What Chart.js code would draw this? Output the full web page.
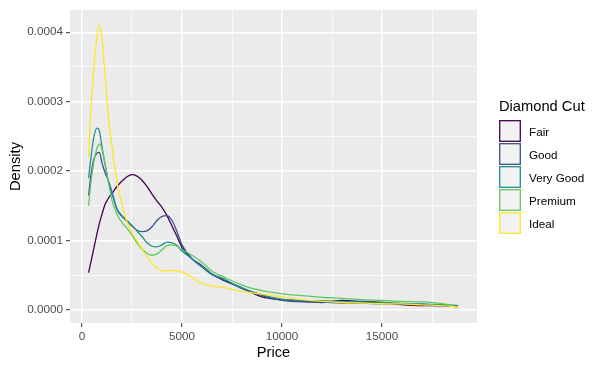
<!DOCTYPE html>
<html>
<head>
<meta charset="utf-8">
<script src="https://cdn.jsdelivr.net/npm/chart.js@4"></script>
<style>
  html, body { margin: 0; padding: 0; background: #ffffff; }
  #wrap { width: 600px; height: 369px; position: relative; }
</style>
</head>
<body>
<div id="wrap"><canvas id="myChart" width="600" height="369"></canvas></div>
<script>
// price grid (x) shared by every cut, densities
const prices = [330, 450, 600, 750, 870, 1000, 1150, 1300, 1500, 1750, 2000, 2250, 2500, 2750, 3000,
  3250, 3500, 3750, 4000, 4250, 4500, 4750, 5000, 5500, 6000, 6500, 7000, 8000, 9000, 10000,
  11000, 12000, 13000, 14000, 15000, 16000, 17000, 18000, 18800];

const fair = [0.000054, 0.00007, 0.00009, 0.00011, 0.000125, 0.000138, 0.000152, 0.00016, 0.000168, 0.000178, 0.000186,
  0.000192, 0.000195, 0.000193, 0.000187, 0.000178, 0.000167, 0.000157, 0.000148, 0.000136, 0.000121, 0.000106,
  0.00009, 0.000074, 0.000064, 0.000052, 0.000044, 0.000032, 0.000019, 0.000015, 0.000013, 0.000011, 0.000014,
  0.0000125, 0.000011, 0.000008, 0.0000065, 0.0000063, 0.000005];

const good = [0.000165, 0.000195, 0.000218, 0.000226, 0.000227, 0.000212, 0.000198, 0.000188, 0.00017, 0.000145, 0.000135,
  0.000128, 0.000121, 0.000115, 0.000113, 0.000114, 0.00012, 0.000129, 0.000135, 0.000136, 0.000129, 0.000113,
  0.000094, 0.000074, 0.000062, 0.000051, 0.000045, 0.000031, 0.000021, 0.000014, 0.0000118, 0.0000115, 0.0000102,
  0.00001, 0.0000092, 0.000009, 0.0000082, 0.0000075, 0.000006];

const veryGood = [0.00019, 0.00022, 0.00025, 0.000262, 0.000258, 0.000235, 0.00021, 0.000188, 0.000168, 0.000146, 0.000136,
  0.000129, 0.000122, 0.000114, 0.000106, 0.000097, 0.000092, 0.000091, 0.000094, 0.000098, 0.000097, 0.000093,
  0.000085, 0.000074, 0.000063, 0.000052, 0.000046, 0.000032, 0.000022, 0.000016, 0.000014, 0.0000135, 0.0000125,
  0.000012, 0.000011, 0.0000098, 0.000009, 0.000008, 0.0000065];

const premium = [0.00015, 0.000185, 0.000215, 0.000233, 0.000239, 0.000232, 0.000212, 0.000188, 0.000158, 0.000138, 0.000126,
  0.000118, 0.000108, 0.000097, 0.000088, 0.000082, 0.000079, 0.000081, 0.000087, 0.000093, 0.000094, 0.000092,
  0.000087, 0.000079, 0.000069, 0.000056, 0.000049, 0.000036, 0.000028, 0.0000235, 0.000021, 0.0000185, 0.000017,
  0.000015, 0.000014, 0.0000125, 0.000012, 0.0000095, 0.0000045];

const ideal = [0.00022, 0.00029, 0.00035, 0.000395, 0.000411, 0.00039, 0.00034, 0.000285, 0.000235, 0.000185, 0.000152,
  0.000127, 0.000111, 0.0001, 0.000088, 0.000077, 0.000068, 0.00006, 0.000057, 0.0000565, 0.000057, 0.000057,
  0.000055, 0.000047, 0.000038, 0.000035, 0.000033, 0.000027, 0.000023, 0.000019, 0.000015, 0.0000125, 0.000011,
  0.0000102, 0.0000092, 0.000009, 0.0000075, 0.0000065, 0.0000045];

const cuts = ['Fair', 'Good', 'Very Good', 'Premium', 'Ideal'];
const cutColors = ['#440154', '#3B528B', '#21908C', '#5DC863', '#FDE725'];
const series = [fair, good, veryGood, premium, ideal];

const xMajor = [0, 5000, 10000, 15000];
const xMinor = [2500, 7500, 12500, 17500];
const xTickLabels = ['0', '5000', '10000', '15000'];
const yMajor = [0, 0.0001, 0.0002, 0.0003, 0.0004];
const yMinor = [0.00005, 0.00015, 0.00025, 0.00035];
const yTickLabels = ['0.0000', '0.0001', '0.0002', '0.0003', '0.0004'];

const FONT = '"Liberation Sans", Arial, sans-serif';

// grey panel behind the grid
const panelBg = {
  id: 'panelBg',
  beforeDraw(chart) {
    const { ctx, chartArea: a } = chart;
    ctx.save();
    ctx.fillStyle = '#EBEBEB';
    ctx.fillRect(a.left, a.top, a.right - a.left, a.bottom - a.top);
    ctx.restore();
  }
};

// ggplot style legend with outlined keys
const cutLegend = {
  id: 'cutLegend',
  afterDraw(chart) {
    const ctx = chart.ctx;
    ctx.save();
    ctx.fillStyle = '#000000';
    ctx.font = '14.7px ' + FONT;
    ctx.textBaseline = 'alphabetic';
    ctx.fillText('Diamond Cut', 499, 111);
    ctx.font = '11.7px ' + FONT;
    cuts.forEach((c, i) => {
      const top = 120 + i * 23;
      ctx.fillStyle = '#F2F2F2';
      ctx.fillRect(499, top, 22, 22);
      ctx.strokeStyle = cutColors[i];
      ctx.lineWidth = 1.3;
      ctx.strokeRect(499.7, top + 0.7, 20.6, 20.6);
      ctx.fillStyle = '#000000';
      ctx.fillText(c, 529, top + 15.5);
    });
    ctx.restore();
  }
};

function setTicks(majors, minors) {
  return (scale) => {
    scale.ticks = majors.concat(minors).sort((a, b) => a - b).map(v => ({ value: v }));
  };
}

const isMajor = (list, v) => list.some(m => Math.abs(m - v) < 1e-12);

const config = {
  type: 'line',
  data: {
    datasets: series.map((d, i) => ({
      label: cuts[i],
      data: prices.map((p, j) => ({ x: p, y: d[j] })),
      borderColor: cutColors[i],
      borderWidth: 1.3,
      pointRadius: 0,
      fill: false,
      cubicInterpolationMode: 'monotone',
      order: cuts.length - i
    }))
  },
  options: {
    responsive: false,
    animation: false,
    layout: { padding: { top: 7, right: 123, bottom: 0, left: 0 } },
    plugins: { legend: { display: false }, tooltip: { enabled: false } },
    scales: {
      x: {
        type: 'linear',
        min: -599,
        max: 19748,
        afterBuildTicks: setTicks(xMajor, xMinor),
        afterFit: (s) => { s.height = 46; },
        border: { display: false },
        grid: {
          color: '#FFFFFF',
          lineWidth: (c) => isMajor(xMajor, c.tick.value) ? 1.4 : 0.7,
          tickColor: (c) => isMajor(xMajor, c.tick.value) ? '#333333' : 'rgba(0,0,0,0)',
          tickLength: 4,
          tickWidth: 1
        },
        ticks: {
          autoSkip: false,
          maxRotation: 0,
          padding: 3,
          color: '#4D4D4D',
          font: { family: FONT, size: 11.7 },
          callback: (v) => {
            const k = xMajor.findIndex(m => m === v);
            return k >= 0 ? xTickLabels[k] : '';
          }
        },
        title: {
          display: true,
          text: 'Price',
          color: '#000000',
          font: { family: FONT, size: 14.7 },
          padding: { top: 0, bottom: 7 }
        }
      },
      y: {
        type: 'linear',
        min: -0.0000185,
        max: 0.000432,
        afterBuildTicks: setTicks(yMajor, yMinor),
        afterFit: (s) => { s.width = 70; },
        border: { display: false },
        grid: {
          color: '#FFFFFF',
          lineWidth: (c) => isMajor(yMajor, c.tick.value) ? 1.4 : 0.7,
          tickColor: (c) => isMajor(yMajor, c.tick.value) ? '#333333' : 'rgba(0,0,0,0)',
          tickLength: 4,
          tickWidth: 1
        },
        ticks: {
          autoSkip: false,
          padding: 3,
          color: '#4D4D4D',
          font: { family: FONT, size: 11.7 },
          callback: (v) => {
            const k = yMajor.findIndex(m => Math.abs(m - v) < 1e-12);
            return k >= 0 ? yTickLabels[k] : '';
          }
        },
        title: {
          display: true,
          text: 'Density',
          color: '#000000',
          font: { family: FONT, size: 14.7 },
          padding: { top: 7, bottom: 0 }
        }
      }
    }
  },
  plugins: [panelBg, cutLegend]
};

const ctx = document.getElementById('myChart').getContext('2d');
const myChart = new Chart(ctx, config);
</script>
</body>
</html>
